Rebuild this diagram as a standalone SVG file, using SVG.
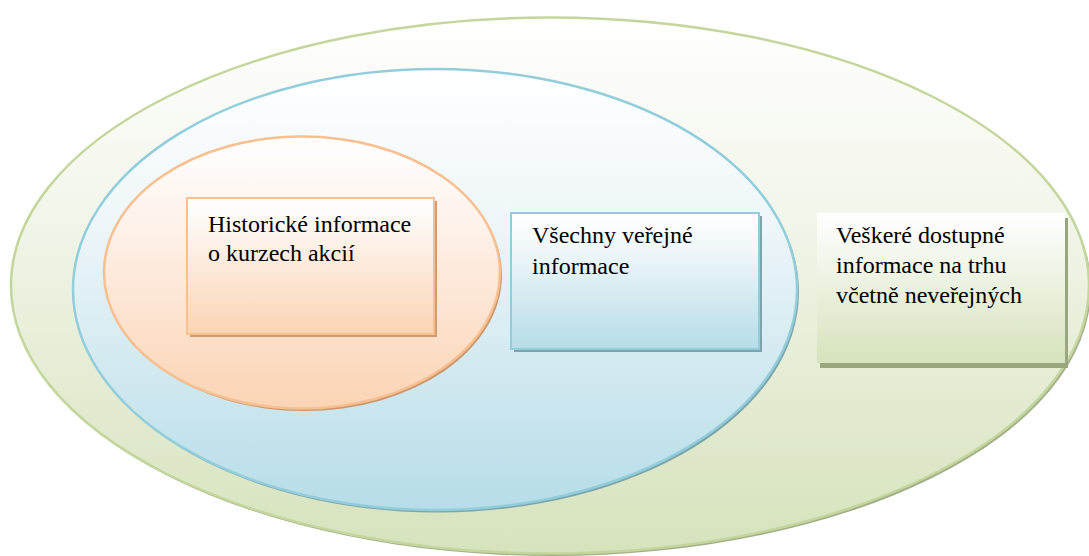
<svg xmlns="http://www.w3.org/2000/svg" width="1089" height="556" viewBox="0 0 1089 556">
  <defs>
    <linearGradient id="gGreen" x1="0" y1="0" x2="0" y2="1">
      <stop offset="0" stop-color="#ffffff"/>
      <stop offset="0.35" stop-color="#f3f6eb"/>
      <stop offset="1" stop-color="#d6e3bc"/>
    </linearGradient>
    <linearGradient id="gBlue" x1="0" y1="0" x2="0" y2="1">
      <stop offset="0" stop-color="#ffffff"/>
      <stop offset="0.35" stop-color="#eef6f9"/>
      <stop offset="1" stop-color="#b6dde8"/>
    </linearGradient>
    <linearGradient id="gOrange" x1="0" y1="0" x2="0" y2="1">
      <stop offset="0" stop-color="#ffffff"/>
      <stop offset="0.3" stop-color="#fef3ec"/>
      <stop offset="1" stop-color="#fbd4b4"/>
    </linearGradient>
    <linearGradient id="bGreen" x1="0" y1="0" x2="0" y2="1">
      <stop offset="0" stop-color="#ffffff"/>
      <stop offset="0.25" stop-color="#f5f8ef"/>
      <stop offset="1" stop-color="#d6e3bc"/>
    </linearGradient>
    <linearGradient id="bBlue" x1="0" y1="0" x2="0" y2="1">
      <stop offset="0" stop-color="#ffffff"/>
      <stop offset="0.25" stop-color="#f1f8fa"/>
      <stop offset="1" stop-color="#b6dde8"/>
    </linearGradient>
    <linearGradient id="bOrange" x1="0" y1="0" x2="0" y2="1">
      <stop offset="0" stop-color="#ffffff"/>
      <stop offset="0.25" stop-color="#fef5ee"/>
      <stop offset="1" stop-color="#fbd4b4"/>
    </linearGradient>
  </defs>
  <style>
    text { font-family: 'Liberation Serif', 'Times New Roman', serif; font-size: 24px; fill: #000; }
  </style>

  <!-- outer set: all available market information -->
  <g id="set-all">
    <ellipse cx="552" cy="288" rx="539" ry="268" fill="#a3ae88"/>
    <ellipse cx="550" cy="285.5" rx="539" ry="268" fill="url(#gGreen)" stroke="#c3d69b" stroke-width="2.5"/>
  </g>

  <!-- middle set: public information -->
  <g id="set-public">
    <ellipse cx="437" cy="292" rx="362" ry="220.5" fill="#7ea3a8"/>
    <ellipse cx="435" cy="289.5" rx="362" ry="220.5" fill="url(#gBlue)" stroke="#92cddc" stroke-width="2.5"/>
  </g>

  <!-- inner set: historical prices -->
  <g id="set-historic">
    <ellipse cx="304" cy="275" rx="198" ry="136" fill="#c9966f"/>
    <ellipse cx="302" cy="272.5" rx="198" ry="136" fill="url(#gOrange)" stroke="#fabf8f" stroke-width="2.5"/>
  </g>

  <!-- label boxes -->
  <g id="box-historic">
    <rect x="190" y="201" width="247" height="136" fill="#d39b70"/>
    <rect x="187" y="198" width="247" height="136" fill="url(#bOrange)" stroke="#fabf8f" stroke-width="2"/>
    <text x="208" y="232">Historické informace</text>
    <text x="208" y="261">o kurzech akcií</text>
  </g>

  <g id="box-public">
    <rect x="514" y="216" width="248" height="136" fill="#7ea3ad"/>
    <rect x="511" y="213" width="248" height="136" fill="url(#bBlue)" stroke="#92cddc" stroke-width="2"/>
    <text x="532" y="243">Všechny veřejné</text>
    <text x="532" y="274">informace</text>
  </g>

  <g id="box-all">
    <rect x="820" y="218" width="248" height="150" fill="#9aa77e"/>
    <rect x="817" y="213" width="248" height="150" fill="url(#bGreen)"/>
    <text x="836" y="243">Veškeré dostupné</text>
    <text x="836" y="273">informace na trhu</text>
    <text x="836" y="303">včetně neveřejných</text>
  </g>
</svg>
